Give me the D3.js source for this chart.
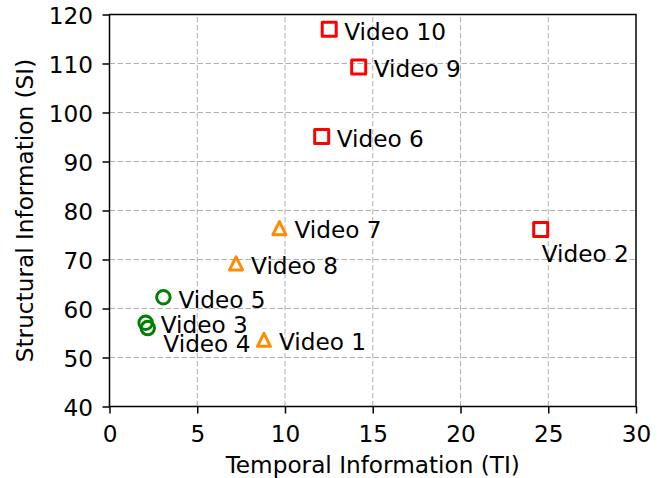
<!DOCTYPE html>
<html>
<head>
<meta charset="utf-8">
<script src="https://cdn.jsdelivr.net/npm/d3@7"></script>
<style>
  html, body { margin: 0; padding: 0; background: #fff; }
  svg { display: block; font-family: "DejaVu Sans", sans-serif; }
</style>
</head>
<body>
<svg id="chart" width="672" height="478"></svg>
<script>
// Video clips: temporal vs structural information
const videoNames = ["Video 1", "Video 2", "Video 3", "Video 4", "Video 5",
                    "Video 6", "Video 7", "Video 8", "Video 9", "Video 10"];
const tiValues = [8.8, 24.57, 2.06, 2.18, 3.07, 12.09, 9.68, 7.21, 14.2, 12.52];
const siValues = [53.6, 76.1, 57.1, 56.0, 62.3, 95.1, 76.4, 69.2, 109.3, 117.0];
// complexity group of each clip: 0 = low, 1 = medium, 2 = high
const groups = [1, 2, 0, 0, 0, 2, 1, 1, 2, 2];

const xTicks = [0, 5, 10, 15, 20, 25, 30];
const yTicks = [40, 50, 60, 70, 80, 90, 100, 110, 120];

// group styling
const groupColor = ["#008000", "#ff8c00", "#ff0000"];
const groupShape = ["circle", "triangle", "square"];

// label placement relative to the marker (px), default right of the marker
const labelOffset = { "Video 2": [1, 32], "Video 4": [15.6, 23.4] };
const defaultOffset = [15, 10.3];

const svg = d3.select("#chart");
const margin = { left: 109.5, right: 36, top: 14.5, bottom: 71.5 };
const W = 672, H = 478;
const x = d3.scaleLinear().domain([0, 30]).range([margin.left, W - margin.right]);
const y = d3.scaleLinear().domain([40, 120]).range([H - margin.bottom, margin.top]);

const FS = "23.2px";

// grid
const grid = svg.append("g").attr("stroke", "#b0b0b0").attr("stroke-width", 1)
  .attr("stroke-dasharray", "5.5,2.5").attr("fill", "none");
grid.selectAll("line.gx").data(xTicks.slice(1, -1)).join("line")
  .attr("x1", d => x(d)).attr("x2", d => x(d))
  .attr("y1", y(40)).attr("y2", y(120));
grid.selectAll("line.gy").data(yTicks.slice(1, -1)).join("line")
  .attr("x1", x(0)).attr("x2", x(30))
  .attr("y1", d => y(d)).attr("y2", d => y(d));

// axes
const xAxis = d3.axisBottom(x).tickValues(xTicks).tickSize(7).tickPadding(14).tickFormat(d3.format("d"));
const yAxis = d3.axisLeft(y).tickValues(yTicks).tickSize(7).tickPadding(9.5).tickFormat(d3.format("d"));

const gx = svg.append("g").attr("transform", `translate(0,${y(40)})`).call(xAxis);
const gy = svg.append("g").attr("transform", `translate(${x(0)},0)`).call(yAxis);
[gx, gy].forEach(g => {
  g.select(".domain").remove();
  g.selectAll(".tick line").attr("stroke", "#000").attr("stroke-width", 1.5);
  g.selectAll(".tick text").attr("fill", "#000").style("font-size", FS)
    .style("font-family", "'DejaVu Sans', sans-serif");
});
gx.selectAll(".tick text").attr("dy", null).attr("y", 35.4);
gy.selectAll(".tick text").attr("dy", null).attr("y", 9.4);

// frame
svg.append("rect")
  .attr("x", x(0)).attr("y", y(120))
  .attr("width", x(30) - x(0)).attr("height", y(40) - y(120))
  .attr("fill", "none").attr("stroke", "#000").attr("stroke-width", 1.5);

// axis titles
svg.append("text")
  .attr("x", (x(0) + x(30)) / 2).attr("y", 473.3)
  .attr("text-anchor", "middle").style("font-size", FS)
  .text("Temporal Information (TI)");
svg.append("text")
  .attr("transform", `translate(33.3,${(y(40) + y(120)) / 2}) rotate(-90)`)
  .attr("text-anchor", "middle").style("font-size", FS)
  .text("Structural Information (SI)");

// points
const pts = videoNames.map((name, i) => ({ name, ti: tiValues[i], si: siValues[i], g: groups[i] }));

function markerPath(shape) {
  if (shape === "square") { const h = 7; return `M${-h},${-h}H${h}V${h}H${-h}Z`; }
  if (shape === "triangle") { const r = 6.5; return `M0,${-r}L${r},${r}L${-r},${r}Z`; }
  const r = 6.75;
  return `M${r},0A${r},${r},0,1,1,${-r},0A${r},${r},0,1,1,${r},0Z`;
}

svg.append("g").selectAll("path").data(pts).join("path")
  .attr("transform", d => `translate(${x(d.ti)},${y(d.si)})`)
  .attr("d", d => markerPath(groupShape[d.g]))
  .attr("fill", "none")
  .attr("stroke", d => groupColor[d.g])
  .attr("stroke-width", 3)
  .attr("stroke-linejoin", "round");

svg.append("g").selectAll("text").data(pts).join("text")
  .attr("x", d => x(d.ti) + (labelOffset[d.name] || defaultOffset)[0])
  .attr("y", d => y(d.si) + (labelOffset[d.name] || defaultOffset)[1])
  .style("font-size", FS)
  .attr("fill", "#000")
  .text(d => d.name);
</script>
</body>
</html>
